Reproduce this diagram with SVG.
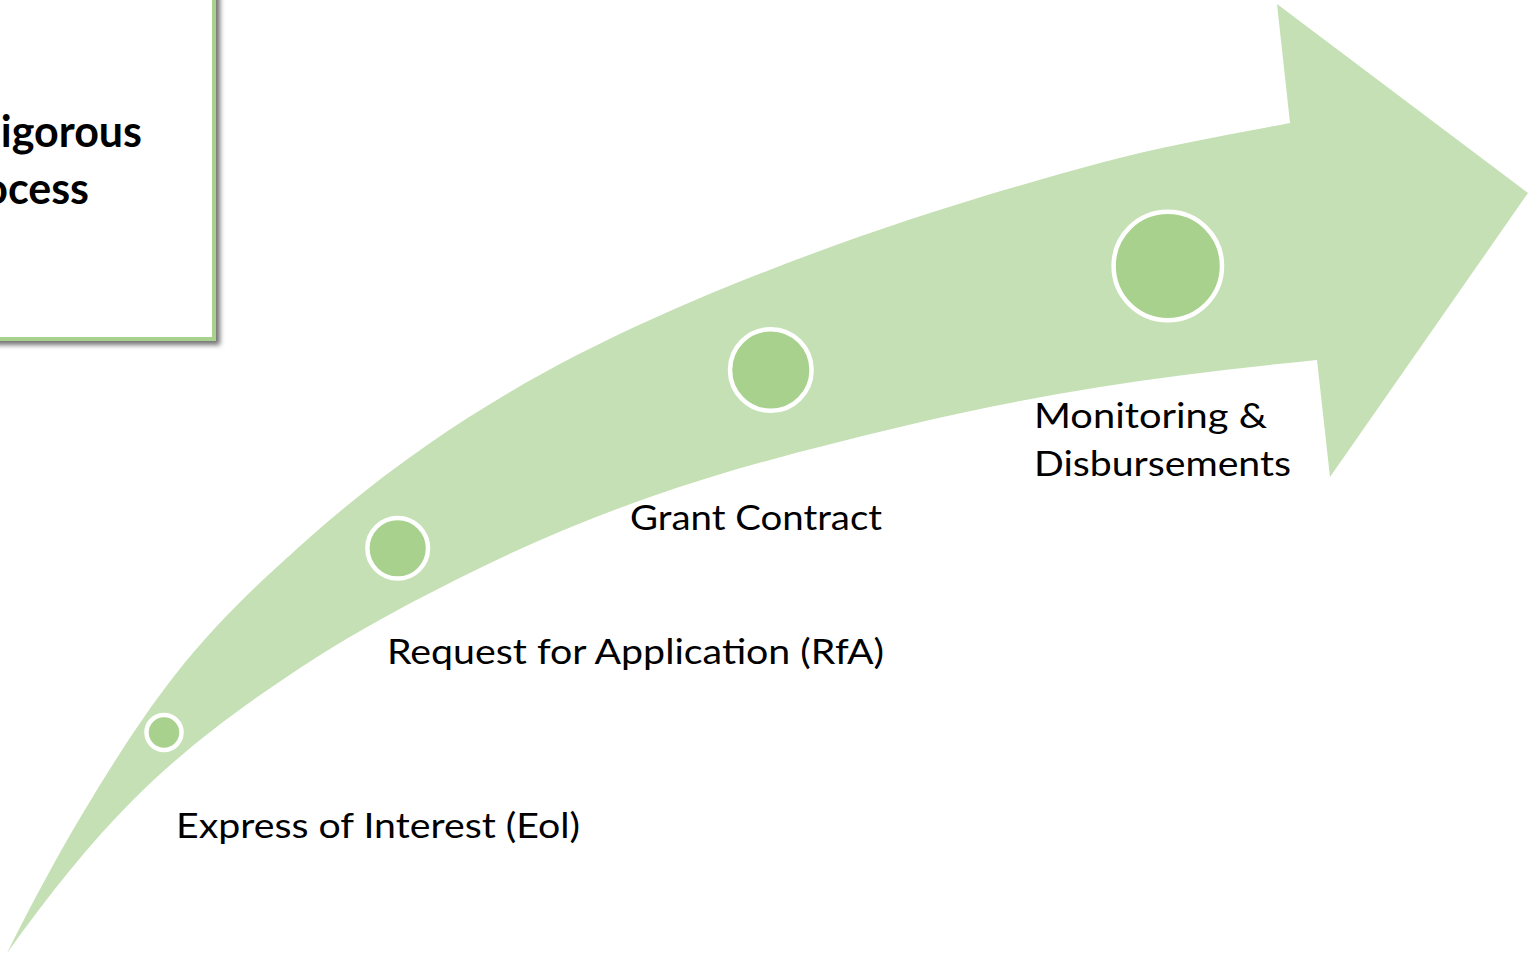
<svg xmlns="http://www.w3.org/2000/svg" width="1537" height="959" viewBox="0 0 1537 959">
  <defs>
    <filter id="shadow" x="-10%" y="-10%" width="130%" height="130%">
      <feDropShadow dx="4" dy="4" stdDeviation="2.5" flood-color="#000" flood-opacity="0.55"/>
    </filter>
  </defs>
  <style>
    .lbl { font-family: Lato, "Open Sans", "Liberation Sans", sans-serif; font-size: 35px; fill: #000; }
    .title { font-family: Lato, "Open Sans", "Liberation Sans", sans-serif; font-size: 43px; font-weight: 700; fill: #000; }
    .dot { fill: #a9d18e; stroke: #ffffff; stroke-width: 4.5; }
    .band { fill: #c5e0b4; stroke: none; }
  </style>
  <rect x="0" y="0" width="1537" height="959" fill="#ffffff"/>

  <g id="title-box">
    <rect x="-300" y="-60" width="514" height="399" fill="#ffffff" stroke="#a9d18e" stroke-width="4" filter="url(#shadow)"/>
    <text class="title" x="142" y="147" text-anchor="end">igorous</text>
    <text class="title" x="89" y="204" text-anchor="end">ocess</text>
  </g>

  <g id="connectors">
    <path id="arrow" class="band" d="M7,953
      C32.3,902.4 57.7,855.3 83,813
      C113.7,761.7 144.3,714 175,675
      C216.7,622 258.3,583.5 300,546
      C416.7,441 533.3,372.5 650,320
      C800,252.5 950,203.5 1100,163
      C1163.3,145.9 1226.7,135 1290,123
      L1277,4 L1528,193 L1330,477 L1317,360
      C1244.7,367.2 1172.3,375.4 1100,387
      C1033.3,397.7 966.7,411 900,427
      C816.7,447 733.3,467.8 650,497
      C593.3,516.8 536.7,540.2 480,568
      C420,597.4 360,628.4 300,668
      C244.3,704.8 188.7,744.3 133,800
      C91,842 49,894.2 7,953 Z"/>
  </g>

  <g id="step-eoi">
    <circle class="dot" cx="164" cy="732.5" r="17.5"/>
    <text class="lbl" x="176" y="838" textLength="404" lengthAdjust="spacingAndGlyphs">Express of Interest (Eol)</text>
  </g>

  <g id="step-rfa">
    <circle class="dot" cx="397.7" cy="548.3" r="30.3"/>
    <text class="lbl" x="387" y="664" textLength="497" lengthAdjust="spacingAndGlyphs">Request for Application (RfA)</text>
  </g>

  <g id="step-contract">
    <circle class="dot" cx="770.8" cy="370" r="40.8"/>
    <text class="lbl" x="630" y="530" textLength="252" lengthAdjust="spacingAndGlyphs">Grant Contract</text>
  </g>

  <g id="step-monitoring">
    <circle class="dot" cx="1167.8" cy="266" r="54.2"/>
    <text class="lbl" x="1034" y="428" textLength="233" lengthAdjust="spacingAndGlyphs">Monitoring &amp;</text>
    <text class="lbl" x="1034" y="476" textLength="257" lengthAdjust="spacingAndGlyphs">Disbursements</text>
  </g>
</svg>
